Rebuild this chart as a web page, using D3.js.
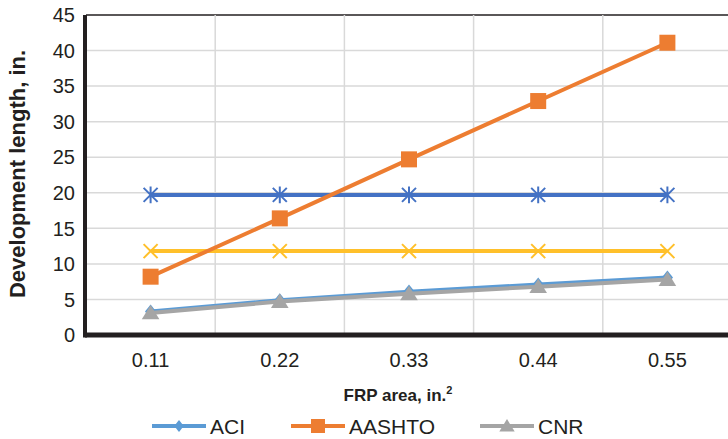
<!DOCTYPE html>
<html>
<head>
<meta charset="utf-8">
<script src="https://cdn.jsdelivr.net/npm/d3@7"></script>
<style>
  body { margin: 0; background: #fff; }
  svg text { font-family: "Liberation Sans", Arial, sans-serif; }
</style>
</head>
<body>
<div id="container"></div>
<script>
// data
const categories = ['0.11', '0.22', '0.33', '0.44', '0.55'];
const aci = [3.3, 4.9, 6.1, 7.1, 8.1];
const aashto = [8.2, 16.4, 24.7, 32.9, 41.1];
const cnr = [3.1, 4.7, 5.8, 6.8, 7.8];
const starSeries = [19.7, 19.7, 19.7, 19.7, 19.7];
const crossSeries = [11.8, 11.8, 11.8, 11.8, 11.8];
const yTicks = [0, 5, 10, 15, 20, 25, 30, 35, 40, 45];

const width = 728, height = 439;
const margin = {left: 86, top: 15, right: -4, bottom: 104};

const svg = d3.select('#container').append('svg')
  .attr('width', width).attr('height', height);

let xScale = d3.scaleBand().domain(categories)
  .range([margin.left, width - margin.right]);
let yScale = d3.scaleLinear().domain([0, 45])
  .range([height - margin.bottom, margin.top]);

// grid
svg.selectAll('.hgrid').data(yTicks.slice(1)).enter().append('line')
  .attr('x1', margin.left).attr('x2', width)
  .attr('y1', d => yScale(d)).attr('y2', d => yScale(d))
  .attr('stroke', d => d == 45 ? '#231f20' : '#d9d9d9')
  .attr('stroke-width', 1.5);

svg.selectAll('.vgrid').data(categories.slice(1)).enter().append('line')
  .attr('x1', d => xScale(d)).attr('x2', d => xScale(d))
  .attr('y1', margin.top).attr('y2', yScale(0))
  .attr('stroke', '#d9d9d9').attr('stroke-width', 1.5);

// axes lines
svg.append('line')
  .attr('x1', margin.left - 1).attr('x2', width)
  .attr('y1', yScale(0)).attr('y2', yScale(0))
  .attr('stroke', '#231f20').attr('stroke-width', 5);
svg.append('line')
  .attr('x1', margin.left - 1).attr('x2', margin.left - 1)
  .attr('y1', margin.top).attr('y2', yScale(0) + 2.5)
  .attr('stroke', '#231f20').attr('stroke-width', 4);

// tick labels
svg.selectAll('.ylab').data(yTicks).enter().append('text')
  .attr('x', 75).attr('y', d => yScale(d))
  .attr('dy', '0.36em').attr('text-anchor', 'end')
  .attr('font-size', 20).attr('fill', '#231f20')
  .text(d => d);

svg.selectAll('.xlab').data(categories).enter().append('text')
  .attr('x', d => xScale(d) + xScale.bandwidth() / 2)
  .attr('y', 367).attr('text-anchor', 'middle')
  .attr('font-size', 20).attr('fill', '#231f20')
  .text(d => d);

// titles
svg.append('text')
  .attr('transform', 'translate(25,174) rotate(-90)')
  .attr('text-anchor', 'middle')
  .attr('font-size', 22).attr('font-weight', 'bold').attr('fill', '#231f20')
  .text('Development length, in.');

const xt = svg.append('text')
  .attr('x', 398).attr('y', 401).attr('text-anchor', 'middle')
  .attr('font-size', 17).attr('font-weight', 'bold').attr('fill', '#231f20');
xt.append('tspan').text('FRP area, in.');
xt.append('tspan').attr('font-size', 11).attr('dy', -7).text('2');

// markers
const symbols = {
  diamond: (g, c, s) => g.append('path')
    .attr('d', `M0,${-s}L${s * 0.8},0L0,${s}L${-s * 0.8},0Z`).attr('fill', c),
  square: (g, c, s) => g.append('rect')
    .attr('x', -s).attr('y', -s).attr('width', 2 * s).attr('height', 2 * s).attr('fill', c),
  triangle: (g, c, s) => g.append('path')
    .attr('d', `M0,${-s}L${s * 1.1},${s * 0.8}L${-s * 1.1},${s * 0.8}Z`).attr('fill', c),
  star: (g, c, s) => g.append('path')
    .attr('d', `M${-s},${-s}L${s},${s}M${-s},${s}L${s},${-s}M0,${-s * 1.2}L0,${s * 1.2}`)
    .attr('stroke', c).attr('stroke-width', 2).attr('fill', 'none'),
  cross: (g, c, s) => g.append('path')
    .attr('d', `M${-s},${-s}L${s},${s}M${-s},${s}L${s},${-s}`)
    .attr('stroke', c).attr('stroke-width', 2).attr('fill', 'none')
};

const series = [
  {name: 'star', values: starSeries, color: '#4472c4', symbol: 'star', size: 7},
  {name: 'cross', values: crossSeries, color: '#ffc02a', symbol: 'cross', size: 7},
  {name: 'AASHTO', values: aashto, color: '#ed7d31', symbol: 'square', size: 8},
  {name: 'ACI', values: aci, color: '#5b9bd5', symbol: 'diamond', size: 7},
  {name: 'CNR', values: cnr, color: '#a5a5a5', symbol: 'triangle', size: 8}
];

const lineGenerator = d3.line()
  .x((d, i) => xScale(categories[i]) + xScale.bandwidth() / 2)
  .y(d => yScale(d));

series.forEach(s => {
  svg.append('path')
    .attr('d', lineGenerator(s.values))
    .attr('fill', 'none').attr('stroke', s.color).attr('stroke-width', 4);
  s.values.forEach((v, i) => {
    let g = svg.append('g')
      .attr('transform', `translate(${xScale(categories[i]) + xScale.bandwidth() / 2},${yScale(v)})`);
    symbols[s.symbol](g, s.color, s.size);
  });
});

// legend
const legendItems = [
  {name: 'ACI', color: '#5b9bd5', symbol: 'diamond', size: 6, x: 152},
  {name: 'AASHTO', color: '#ed7d31', symbol: 'square', size: 7, x: 291},
  {name: 'CNR', color: '#a5a5a5', symbol: 'triangle', size: 7, x: 480}
];
legendItems.forEach(d => {
  let g = svg.append('g').attr('transform', `translate(${d.x},426)`);
  g.append('line').attr('x1', 0).attr('x2', 54).attr('y1', 0).attr('y2', 0)
    .attr('stroke', d.color).attr('stroke-width', 4);
  symbols[d.symbol](g.append('g').attr('transform', 'translate(27,0)'), d.color, d.size);
  g.append('text').attr('x', 58).attr('y', 0).attr('dy', '0.36em')
    .attr('font-size', 21).attr('fill', '#231f20').text(d.name);
});
</script>
</body>
</html>
